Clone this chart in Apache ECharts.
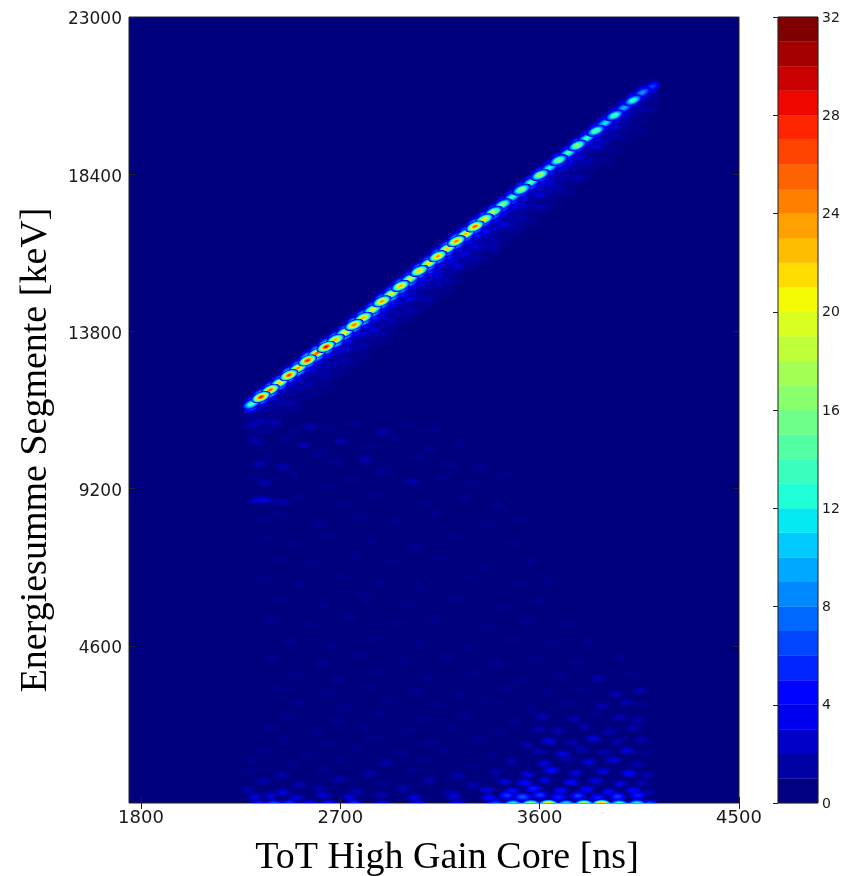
<!DOCTYPE html>
<html><head><meta charset="utf-8">
<style>html,body{margin:0;padding:0;background:#fff}#c{width:856px;height:876px}</style>
<script src="https://cdn.jsdelivr.net/npm/echarts@6/dist/echarts.min.js"></script>
</head><body><div id="c"></div>
<script>
// --- data ---
const xTicks = [1800, 2700, 3600, 4500];
const yTicks = [4600, 9200, 13800, 18400, 23000];
const barTicks = [0, 4, 8, 12, 16, 20, 24, 28, 32];
const xTitle = 'ToT High Gain Core [ns]';
const yTitle = 'Energiesumme Segmente [keV]';
const ridgeX = [2300,2342,2384,2426,2468,2510,2552,2594,2636,2678,2720,2762,2804,2846,2888,2930,2972,3014,3056,3098,3140,3182,3224,3266,3308,3350,3392,3434,3476,3518,3560,3602,3644,3686,3728,3770,3812,3854,3896,3938,3980,4022,4064,4106];
const ridgeY = [11680,11880,12090,12300,12520,12730,12950,13160,13350,13560,13770,13990,14200,14440,14680,14900,15130,15340,15570,15790,16000,16220,16440,16650,16870,17080,17300,17520,17730,17950,18160,18380,18590,18810,19020,19240,19450,19670,19900,20120,20340,20560,20790,20960];
// counts at rows -2 .. +10 around the ridge (row 0 is the crest, positive is below it)
const ridgeRows = [
[1,6,15,7,2,1,1,2,1,0,1,1,0],[2,10,29,9,3,2,1,1,2,1,0,1,0],[2,9,27,11,4,1,2,1,1,0,1,1,1],[1,8,23,10,3,2,1,2,1,1,1,0,1],
[3,11,28,9,4,2,2,1,1,2,1,1,0],[2,9,25,12,3,3,1,2,1,1,0,1,1],[3,12,29,10,5,2,2,1,2,1,1,1,0],[2,10,27,12,4,3,2,2,1,1,1,0,1],
[3,12,30,11,5,2,2,2,1,2,1,1,1],[2,9,24,13,4,3,2,1,2,1,1,1,0],[2,8,22,11,5,3,3,2,1,2,1,1,1],[3,10,26,10,4,3,2,2,2,1,1,0,1],
[2,10,24,12,5,2,3,2,1,2,1,1,1],[2,8,21,11,6,3,2,3,2,1,1,1,0],[3,9,25,10,5,3,3,2,2,1,2,1,1],[2,8,21,12,5,4,2,2,2,2,1,1,1],
[2,9,24,11,6,3,3,2,1,2,1,1,0],[2,7,20,10,5,3,3,3,2,1,2,1,1],[2,9,23,9,5,4,2,2,2,2,1,1,1],[2,8,22,10,6,3,3,2,2,1,1,2,1],
[3,9,25,10,5,3,3,3,2,2,1,1,1],[2,9,23,9,6,4,2,2,2,1,2,1,1],[3,10,26,10,4,3,3,2,3,2,1,1,1],[2,8,24,9,5,3,3,3,2,2,1,1,0],
[3,10,27,9,6,3,2,3,2,1,2,1,1],[2,8,22,8,4,4,3,2,2,2,1,1,1],[1,7,19,9,5,3,3,2,1,2,1,2,1],[1,6,17,8,4,3,2,3,2,1,1,1,1],
[1,6,14,7,4,3,2,2,2,2,1,1,0],[1,7,18,7,4,2,3,2,1,2,1,1,1],[1,6,15,8,3,3,2,2,2,1,1,1,1],[1,7,19,7,4,3,2,3,1,1,2,1,0],
[1,5,13,6,3,3,3,2,2,1,1,1,1],[1,6,17,7,4,2,2,2,1,2,1,1,0],[1,6,15,6,4,3,2,1,2,1,1,1,1],[1,7,18,6,3,3,2,2,1,1,2,1,0],
[1,5,14,6,3,2,2,2,2,1,1,0,1],[1,6,16,5,4,2,3,1,1,1,1,1,0],[1,5,12,5,3,2,2,2,1,1,0,1,1],[1,5,15,5,3,3,1,2,1,0,1,1,0],
[1,4,10,4,3,2,2,1,1,1,1,0,0],[1,5,14,4,2,2,1,1,1,1,0,1,0],[1,3,9,4,2,1,2,1,0,1,0,0,1],[0,2,6,3,2,1,1,1,1,0,0,0,0]];
// faint cells below the ridge: x [ns], y [keV], counts
const speckX = [2310,2352,2398,2482,2561,2640,2763,2891,3012,3119, 2322,2378,2455,2533,2618,2704,2829,2957,3103,3240, 2333,2370,2441,2592,2684,2812,2903,3054,3188,3331, 2312,2361,2484,2631,2752,2881,3024,3163,3298,3442, 2320,2351,2389,2442,2524,2713,2860,3090,3262,3411, 2341,2423,2604,2788,2952,3129,3371,3520, 2364,2481,2652,2843,3040,3212,3483, 2412,2573,2771,2934,3150,3342,3561, 2353,2522,2703,2881,3062,3283,3504,3642, 2431,2623,2818,3004,3221,3433,3603, 2384,2562,2743,2961,3122,3364,3541,3722, 2472,2661,2852,3053,3274,3472,3651,3820, 2391,2614,2793,2990,3181,3402,3582,3763,3960, 2493,2682,2871,3094,3303,3512,3691,3862,4011, 2424,2643,2832,3041,3243,3452,3632,3793,3944,4052, 2513,2721,2923,3134,3352,3563,3724,3881,3992,4061, 2462,2691,2884,3072,3261,3484,3612,3752,3853,3962,4043, 2383,2592,2813,3013,3204,3413,3594,3683,3804,3912,4024, 2443,2652,2861,3112,3323,3542,3641,3743,3842,3953,4062, 2354,2563,2774,2972,3171,3384,3592,3704,3791,3893,3994,4071, 2302,2484,2702,2904,3083,3284,3471,3623,3724,3822,3932,4044, 2291,2433,2624,2833,3021,3232,3403,3544,3652,3763,3884,4003,4082, 2352,2514,2693,2902,3104,3301,3443,3531,3624,3742,3852,3963,4061, 2283,2442,2604,2771,2983,3192,3361,3473,3572,3694,3812,3914,4023,4091, 2313,2384,2503,2622,2741,2882,3034,3213,3372,3452,3523,3601,3684,3773,3862,3951,4043];
const speckY = [11050,10920,11130,10880,11010,10950,11090,10860,11030,10910, 10560,10380,10640,10470,10310,10590,10420,10690,10350,10510, 9920,10090,9840,10160,9970,10040,9780,10110,9890,9810, 9560,9370,9620,9290,9480,9680,9410,9530,9340,9610, 8850,8870,8840,8810,8930,8720,9020,8780,8950,8690, 8310,8440,8190,8370,8240,8490,8130,8290, 7740,7590,7820,7650,7480,7760,7610, 7120,6980,7240,7050,7180,6930,7090, 6540,6390,6620,6460,6310,6580,6420,6490, 5920,5780,6030,5850,5980,5740,5890, 5340,5190,5430,5260,5380,5130,5310,5220, 4740,4610,4820,4680,4560,4790,4640,4710, 4240,4090,4320,4160,4280,4050,4210,4130,4260, 3740,3610,3820,3670,3780,3560,3710,3640,3770, 3320,3210,3390,3270,3180,3350,3240,3310,3190,3280, 2940,2810,3010,2870,2980,2760,2910,2840,2950,2890, 2530,2420,2610,2470,2580,2390,2540,2460,2590,2510,2440, 2190,2060,2260,2120,2230,2080,2170,2110,2240,2090,2200, 1840,1730,1900,1770,1860,1710,1820,1760,1880,1790,1850, 1530,1410,1580,1460,1550,1390,1510,1440,1570,1490,1530,1420, 1240,1120,1290,1170,1260,1090,1220,1150,1280,1190,1250,1130, 930,820,970,860,950,790,910,840,960,880,930,870,820, 640,540,690,580,660,520,630,590,670,610,650,560,600, 390,310,430,350,410,290,380,330,420,360,400,320,370,310, 180,210,150,230,170,240,160,200,150,220,180,230,170,210,160,190,220];
const speckV = [2,1,2,1,2,1,1,2,1,1, 2,1,1,2,1,2,1,1,1,1, 2,1,2,1,1,2,1,1,1,1, 1,2,1,1,1,1,2,1,1,1, 3,3,2,2,1,1,1,1,1,1, 1,1,1,1,1,1,1,1, 1,1,1,1,1,1,1, 1,1,1,1,1,1,1, 1,1,1,1,1,1,1,1, 1,1,1,1,1,1,1, 1,1,1,1,1,1,1,1, 1,1,1,1,1,1,1,1, 1,1,1,1,1,1,1,1,1, 1,1,1,1,1,1,1,2,1, 1,1,1,1,1,1,1,1,2,2, 1,1,1,1,1,1,1,2,2,1, 1,1,1,1,1,1,2,2,1,2,2, 1,1,1,1,1,1,2,2,2,2,2, 1,1,1,1,1,2,3,2,3,2,2, 1,1,1,1,1,1,2,3,2,2,3,1, 1,1,1,2,1,1,2,3,2,3,3,2, 1,2,1,2,1,2,2,3,4,3,3,4,2, 2,2,2,1,2,2,3,4,3,4,3,3,2, 2,3,2,2,2,2,3,5,5,4,4,4,4,2, 3,3,3,3,3,2,3,3,4,6,7,6,5,6,5,6,5];
// the lowest row, cut off by the axis
const floorX = [2330,2400,2470,2560,2650,2760,2890,3050,3230,3400,3480,3560,3640,3720,3800,3880,3960,4040,4095];
const floorV = [6,8,7,5,6,7,4,5,5,8,15,20,26,14,22,28,16,15,8];
const floorY = -40;

const cellNs = 42, cellKev = 117;

function jet(t) {
  t = Math.max(0, Math.min(1, t));
  const r = t < .35 ? 0 : t < .66 ? (t - .35) / .31 : t < .89 ? 1 : 1 - (t - .89) / .11 * .5;
  const g = t < .125 ? 0 : t < .375 ? (t - .125) / .25 : t < .64 ? 1 : t < .91 ? 1 - (t - .64) / .27 : 0;
  const b = t < .11 ? .5 + t / .11 * .5 : t < .34 ? 1 : t < .65 ? 1 - (t - .34) / .31 : 0;
  return [r, g, b].map(c => Math.round(c * 255));
}
function stops(v) {
  const out = [], n = 10;
  for (let i = 0; i <= n; i++) {
    const f = i / n, local = v * (1 - Math.pow(f, 1.5)), c = jet(local / 32);
    const a = i === n ? 0 : Math.min(1, 0.2 + local / 3.5);
    out.push({offset: f, color: `rgba(${c[0]},${c[1]},${c[2]},${a})`});
  }
  return out;
}
const plain = v => String(v);

// build the list of cells [x, y, counts, tilted] from the arrays above
const cells = [];
ridgeX.forEach((x, i) => ridgeRows[i].forEach((v, j) => {
  if (v > 0) cells.push([x, ridgeY[i] - (j - 2) * cellKev, v, j < 4 ? 1 : 0]);
}));
speckX.forEach((x, i) => cells.push([x, speckY[i], speckV[i], 0]));
floorX.forEach((x, i) => cells.push([x, floorY, floorV[i], 0]));
cells.sort((a, b) => a[2] - b[2]);

const levels = [];
for (let i = 0; i < 32; i++) levels.push([i, i + 1]);

const axisInk = '#222';
const chart = echarts.init(document.getElementById('c'), null, {renderer: 'canvas'});
chart.setOption({
  animation: false,
  backgroundColor: '#fff',
  grid: [
    {left: 129, top: 17, width: 610, height: 786, outerBoundsMode: 'none', show: true, backgroundColor: 'rgb(0,0,127)', borderColor: axisInk, borderWidth: 1},
    {left: 778, top: 17, width: 40, height: 786, outerBoundsMode: 'none'}
  ],
  xAxis: [
    {gridIndex: 0, type: 'value', min: 1746, max: 4500, position: 'bottom',
     name: xTitle, nameLocation: 'middle', nameGap: 36,
     nameTextStyle: {fontFamily: 'Liberation Serif', fontSize: 38, color: '#000', padding: [0, 0, 0, 26]},
     splitLine: {show: false}, axisLine: {show: false},
     axisTick: {inside: true, length: 6, customValues: xTicks, lineStyle: {color: axisInk}},
     axisLabel: {customValues: xTicks, formatter: plain, fontFamily: 'DejaVu Sans', fontSize: 18, color: '#1a1a1a', margin: 6}},
    {gridIndex: 0, type: 'value', min: 1746, max: 4500, position: 'top',
     splitLine: {show: false}, axisLine: {show: false},
     axisTick: {inside: true, length: 6, customValues: xTicks, lineStyle: {color: axisInk}},
     axisLabel: {show: false}},
    {gridIndex: 1, type: 'value', min: 0, max: 1, show: false}
  ],
  yAxis: [
    {gridIndex: 0, type: 'value', min: 0, max: 23000, interval: 4600, position: 'left',
     name: yTitle, nameLocation: 'middle', nameGap: 74,
     nameTextStyle: {fontFamily: 'Liberation Serif', fontSize: 38, color: '#000', padding: [0, 80, 0, 0]},
     splitLine: {show: false}, axisLine: {show: false},
     axisTick: {inside: true, length: 6, customValues: yTicks, lineStyle: {color: axisInk}},
     axisLabel: {customValues: yTicks, formatter: plain, fontFamily: 'DejaVu Sans', fontSize: 17, color: '#1a1a1a', margin: 7, verticalAlign: 'top', lineHeight: 6}},
    {gridIndex: 0, type: 'value', min: 0, max: 23000, interval: 4600, position: 'right',
     splitLine: {show: false}, axisLine: {show: false},
     axisTick: {inside: true, length: 6, customValues: yTicks, lineStyle: {color: axisInk}}, axisLabel: {show: false}},
    {gridIndex: 1, type: 'value', min: 0, max: 32, interval: 4, position: 'right',
     splitLine: {show: false}, axisLine: {show: false},
     axisTick: {inside: true, length: 5, customValues: barTicks, lineStyle: {color: axisInk}},
     axisLabel: {customValues: barTicks, formatter: plain, fontFamily: 'DejaVu Sans', fontSize: 14, color: '#1a1a1a', margin: 4, verticalAlign: 'top', lineHeight: 2}}
  ],
  series: [
    {type: 'custom', name: 'counts', xAxisIndex: 0, yAxisIndex: 0, coordinateSystem: 'cartesian2d',
     clip: true, silent: true, data: cells, encode: {x: 0, y: 1},
     renderItem(params, api) {
       const p = api.coord([api.value(0), api.value(1)]);
       const s = api.size([cellNs, cellKev]);
       const v = api.value(2);
       const ry = s[1] * 1.3, rx = s[0] * 1.15;
       return {type: 'circle', x: p[0], y: p[1], scaleX: rx / ry, scaleY: 1, rotation: api.value(3) ? 0.4 : 0,
         shape: {cx: 0, cy: 0, r: ry},
         style: {fill: {type: 'radial', x: .5, y: .5, r: .5, colorStops: stops(v)}}};
     }},
    {type: 'custom', name: 'colour bar', xAxisIndex: 2, yAxisIndex: 2, coordinateSystem: 'cartesian2d',
     silent: true, data: levels, encode: {y: [0, 1]},
     renderItem(params, api) {
       const a = api.coord([0, api.value(0)]), b = api.coord([1, api.value(1)]);
       const c = jet(api.value(0) / 31);
       return {type: 'rect', shape: {x: a[0], y: b[1], width: b[0] - a[0], height: a[1] - b[1]},
         style: {fill: `rgb(${c[0]},${c[1]},${c[2]})`, stroke: `rgb(${c[0]},${c[1]},${c[2]})`, lineWidth: .3}};
     }}
  ],
  graphic: [{type: 'rect', silent: true, z: 10, shape: {x: 778, y: 17, width: 40, height: 786},
    style: {fill: 'none', stroke: axisInk, lineWidth: 1}}]
});
</script></body></html>
